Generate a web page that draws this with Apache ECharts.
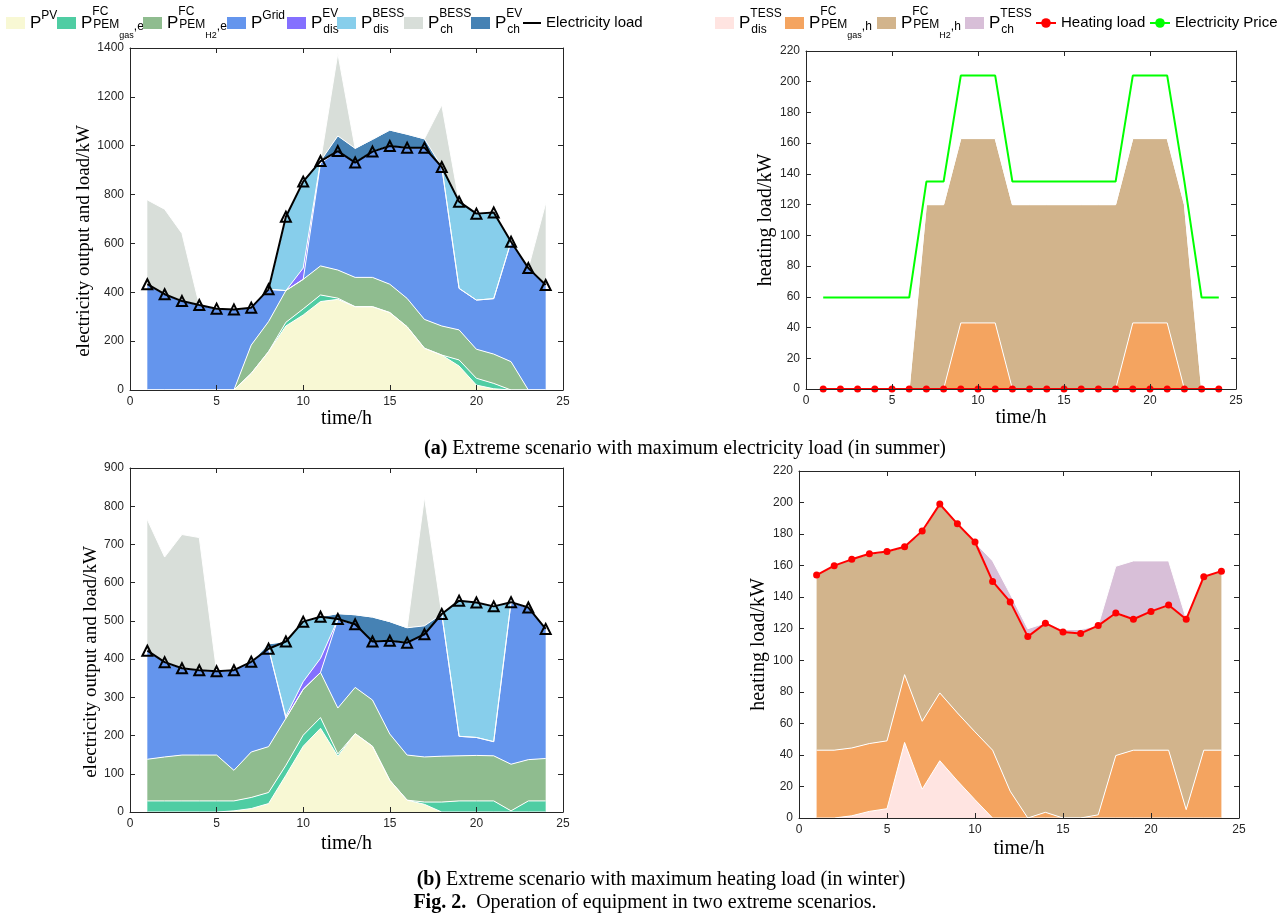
<!DOCTYPE html>
<html>
<head>
<meta charset="utf-8">
<script src="https://cdn.jsdelivr.net/npm/echarts@6.0.0/dist/echarts.min.js"></script>
<style>html,body{margin:0;padding:0;background:#fff}#c{width:1287px;height:915px}</style>
</head>
<body>
<div id="c"></div>
<script>
// ---------------- DATA ----------------
const hours = [1,2,3,4,5,6,7,8,9,10,11,12,13,14,15,16,17,18,19,20,21,22,23,24];

// (a) summer - electricity
const pvS      = [0,0,0,0,0,0,68,157,262,307,362,371,341,341,317,259,171,143,98,20,5,0,0,0];
const gasES    = [0,0,0,0,0,0,0,0,15,25,27,5,0,0,0,0,0,0,25,28,22,0,0,0];
const h2ES     = [0,0,0,0,0,0,116,123,130,121,119,115,120,120,116,116,118,119,123,119,120,116,0,0];
const gridS    = [433,392,364,348,333,330,153,132,0,0,420,487,470,515,566,617,703,651,170,201,227,491,499,430];
const evDisS   = [0,0,0,0,0,0,0,0,0,46,9,0,0,0,0,0,0,0,0,0,0,0,0,0];
const bessDisS = [0,0,0,0,0,0,0,0,302,354,0,0,0,0,0,0,0,0,355,354,353,0,0,0];
const evChS    = [0,0,0,0,0,0,0,0,0,0,0,62,58,50,65,55,36,0,0,0,0,0,0,0];
const bessChS  = [345,348,277,0,0,0,0,0,0,0,0,338,0,0,0,0,0,254,0,0,0,0,0,334];
const eLoadS   = [433,392,364,348,333,330,337,412,709,853,937,978,931,976,999,992,992,913,771,722,727,607,499,430];

// (a) summer - heating
const tDisS    = [0,0,0,0,0,0,0,0,0,0,0,0,0,0,0,0,0,0,0,0,0,0,0,0];
const gasHS    = [0,0,0,0,0,0,0,0,43,43,43,0,0,0,0,0,0,0,43,43,43,0,0,0];
const h2HS     = [0,0,0,0,0,0,120,120,120,120,120,120,120,120,120,120,120,120,120,120,120,120,0,0];
const tChS     = [0,0,0,0,0,0,0,0,0,0,0,0,0,0,0,0,0,0,0,0,0,0,0,0];
const hLoadS   = [0,0,0,0,0,0,0,0,0,0,0,0,0,0,0,0,0,0,0,0,0,0,0,0];
const priceS   = [59.5,59.5,59.5,59.5,59.5,59.5,135,135,204,204,204,135,135,135,135,135,135,135,204,204,204,135,59.5,59.5];

// (b) winter - electricity
const pvW      = [0,0,0,0,0,3,9,22,96,172,219,146,205,172,83,31,20,0,0,0,0,0,0,0];
const gasEW    = [29,29,29,29,29,26,29,29,26,29,28,6,0,0,0,0,6,26,29,29,29,3,29,29];
const h2EW     = [109,115,120,120,120,80,119,120,123,120,118,120,121,121,121,118,118,120,118,119,118,122,108,111];
const gridW    = [284,248,227,222,219,262,236,257,0,0,0,232,165,153,244,294,321,372,51,47,37,424,398,339];
const evDisW   = [0,0,0,0,0,0,0,0,5,20,37,0,0,0,0,0,0,0,0,0,0,0,0,0];
const bessDisW = [0,0,0,0,0,0,0,0,196,157,109,0,0,0,0,0,0,0,355,353,354,0,0,0];
const evChW    = [0,0,0,0,0,0,0,12,0,0,0,15,25,64,50,39,22,0,0,0,0,0,0,0];
const bessChW  = [343,275,350,347,0,0,0,0,0,0,0,0,0,0,0,0,337,0,0,0,0,0,0,0];
const eLoadW   = [422,392,376,371,368,371,393,427,446,498,511,505,491,446,448,443,465,518,553,548,538,549,535,479];

// (b) winter - heating
const tDisW    = [0,0,1.4,4.2,5.9,47.9,18.3,36.3,23.6,11.6,0,0,0,0,0,0,0,0,0,0,0,0,0,0];
const gasHW    = [43,43,43,43,43,43,43,43,43,43,43,17,0,3.6,0,0,2,39.6,43,43,43,5.3,43,43];
const h2HW     = [111,117,120,120,120,81,120,120,120,120,107,120,115,120,118,117,120,91,83,88,92,121,110,114];
const tChW     = [0,0,0,0,0,0,0,0,0,0,13,5,5,0,1.5,2.5,0,29,37,32,28,0,0,0];
const hLoadW   = [154,160,164,167.5,169,172,182,199,186.5,175,150,137,115,123.5,118,117,122,130,126,131,135,126,153,156.5];

// axis tick settings
const xMin = 0, xMax = 25, xStep = 5;
const yMaxes = [1400, 220, 900, 220];
const ySteps = [200, 20, 100, 20];

// ---------------- STYLE ----------------
const SANS = 'Liberation Sans, Arial, Helvetica, sans-serif';
const SERIF = 'Liberation Serif, Times New Roman, serif';
const AX = '#262626';
const C = {
  PV:'#F8F8D4', PEMgas_e:'#4FCDA3', PEMH2_e:'#8FBC8F', Grid:'#6495ED', EVdis:'#8470FF',
  BESSdis:'#87CEEB', BESSch:'#D8DED9', EVch:'#4682B4',
  TESSdis:'#FFE4E1', PEMgas_h:'#F4A460', PEMH2_h:'#D2B48C', TESSch:'#D8BFD8'
};

const grids = [
  {left:130, top:48,  width:433, height:342},
  {left:806, top:51,  width:430, height:338},
  {left:130, top:468, width:433, height:344},
  {left:799, top:471, width:440, height:347}
];
const yNames = ['electricity output and load/kW','heating load/kW','electricity output and load/kW','heating load/kW'];
const xNameGaps = [16, 19, 22, 21];
const yNameGaps = [22, 26, 22, 26];

const xAxes = [], yAxes = [];
for (let top = 0; top < 2; top++) {
  for (let i = 0; i < 4; i++) {
    xAxes.push({
      type:'value', gridIndex:i, position: top ? 'top' : 'bottom', min:xMin, max:xMax, interval:xStep, z:10,
      axisLine:{show:true, onZero:false, lineStyle:{color:AX, width:1}},
      axisTick:{show:true, inside:true, length:5, lineStyle:{color:AX, width:1}},
      axisLabel:{show:!top, color:AX, fontSize:12, fontFamily:SANS, margin:6, formatter: v => String(v)},
      splitLine:{show:false},
      name: top ? '' : 'time/h', nameLocation:'middle', nameGap: xNameGaps[i],
      nameTextStyle:{fontFamily:SERIF, fontSize:20, color:'#000'}
    });
    yAxes.push({
      type:'value', gridIndex:i, position: top ? 'right' : 'left', min:0, max:yMaxes[i], interval:ySteps[i], z:10,
      axisLine:{show:true, onZero:false, lineStyle:{color:AX, width:1}},
      axisTick:{show:true, inside:true, length:5, lineStyle:{color:AX, width:1}},
      axisLabel:{show:!top, color:AX, fontSize:12, fontFamily:SANS, margin:6, formatter: v => String(v)},
      splitLine:{show:false},
      name: top ? '' : yNames[i], nameLocation:'middle', nameGap: yNameGaps[i],
      nameTextStyle:{fontFamily:SERIF, fontSize: (i % 2 === 0) ? 19 : 20, color:'#000',
        padding: (i % 2 === 0) ? [0, 44, 0, 0] : 0}
    });
  }
}

// stacked areas: value first, hour second, so that the stack is computed on the value dimension
const ptsVH = arr => hours.map((h, k) => [arr[k], h]);
const pts = arr => hours.map((h, k) => [h, arr[k]]);
function area(name, arr, gi, stack) {
  return { name, type:'line', xAxisIndex:gi, yAxisIndex:gi, stack, data:ptsVH(arr), encode:{x:1, y:0},
    symbol:'none', showSymbol:false, silent:true, z:2,
    lineStyle:{color:'#ffffff', width:1}, itemStyle:{color:C[name]},
    areaStyle:{color:C[name], opacity:1}, emphasis:{disabled:true} };
}
function eLoad(arr, gi) {
  return { name:'Eload', type:'line', xAxisIndex:gi, yAxisIndex:gi, data:pts(arr), z:5, silent:true,
    symbol:'triangle', symbolSize:10, showSymbol:true,
    lineStyle:{color:'#000', width:2}, itemStyle:{color:'rgba(255,255,255,0)', borderColor:'#000', borderWidth:2},
    emphasis:{disabled:true} };
}
function hLoad(arr, gi) {
  return { name:'Hload', type:'line', xAxisIndex:gi, yAxisIndex:gi, data:pts(arr), z:5, silent:true,
    symbol:'circle', symbolSize:7, showSymbol:true,
    lineStyle:{color:'#ff0000', width:2}, itemStyle:{color:'#ff0000'}, emphasis:{disabled:true} };
}

const series = [
  area('PV', pvS, 0, 'a'), area('PEMgas_e', gasES, 0, 'a'), area('PEMH2_e', h2ES, 0, 'a'),
  area('Grid', gridS, 0, 'a'), area('EVdis', evDisS, 0, 'a'), area('BESSdis', bessDisS, 0, 'a'),
  area('EVch', evChS, 0, 'a'), area('BESSch', bessChS, 0, 'a'), eLoad(eLoadS, 0),

  area('TESSdis', tDisS, 1, 'b'), area('PEMgas_h', gasHS, 1, 'b'), area('PEMH2_h', h2HS, 1, 'b'),
  area('TESSch', tChS, 1, 'b'), hLoad(hLoadS, 1),
  { name:'Price', type:'line', xAxisIndex:1, yAxisIndex:1, data:pts(priceS), z:4, silent:true,
    symbol:'none', lineStyle:{color:'#00FF00', width:2}, itemStyle:{color:'#00FF00'}, emphasis:{disabled:true} },

  area('PV', pvW, 2, 'c'), area('PEMgas_e', gasEW, 2, 'c'), area('PEMH2_e', h2EW, 2, 'c'),
  area('Grid', gridW, 2, 'c'), area('EVdis', evDisW, 2, 'c'), area('BESSdis', bessDisW, 2, 'c'),
  area('EVch', evChW, 2, 'c'), area('BESSch', bessChW, 2, 'c'), eLoad(eLoadW, 2),

  area('TESSdis', tDisW, 3, 'd'), area('PEMgas_h', gasHW, 3, 'd'), area('PEMH2_h', h2HW, 3, 'd'),
  area('TESSch', tChW, 3, 'd'), hLoad(hLoadW, 3)
];

// ---------------- LEGENDS ----------------
const labels = {
  PV:'{p|P}{sup|PV}',
  PEMgas_e:'{p|P}{hi|FC}{sub|PEM}{ss|gas}{ce|,e}',
  PEMH2_e:'{p|P}{hi|FC}{sub|PEM}{ss|H2}{ce|,e}',
  Grid:'{p|P}{sup|Grid}',
  EVdis:'{p|P}{hi2|EV}{sub2|dis}',
  BESSdis:'{p|P}{hi2|BESS}{sub2|dis}',
  BESSch:'{p|P}{hi2|BESS}{sub2|ch}',
  EVch:'{p|P}{hi2|EV}{sub2|ch}',
  Eload:'{n|Electricity load}',
  TESSdis:'{p|P}{hi2|TESS}{sub2|dis}',
  PEMgas_h:'{p|P}{hi|FC}{sub|PEM}{ss|gas}{ce|,h}',
  PEMH2_h:'{p|P}{hi|FC}{sub|PEM}{ss|H2}{ce|,h}',
  TESSch:'{p|P}{hi2|TESS}{sub2|ch}',
  Hload:'{n|Heating load}',
  Price:'{n|Electricity Price}'
};
// token "height" positions each token inside the 40px line (top / bottom aligned)
const rich = {
  p:{fontSize:17, lineHeight:40, height:40, fontFamily:SANS, color:'#000'},
  n:{fontSize:15, lineHeight:40, height:40, fontFamily:SANS, color:'#000'},
  sup:{fontSize:12, lineHeight:26, height:26, verticalAlign:'top', fontFamily:SANS, color:'#000'},
  hi:{fontSize:12, lineHeight:17, height:17, verticalAlign:'top', width:1, fontFamily:SANS, color:'#000'},
  hi2:{fontSize:12, lineHeight:22, height:22, verticalAlign:'top', width:1, fontFamily:SANS, color:'#000'},
  sub:{fontSize:12, lineHeight:36, height:36, verticalAlign:'bottom', fontFamily:SANS, color:'#000'},
  sub2:{fontSize:12, lineHeight:26, height:26, verticalAlign:'bottom', fontFamily:SANS, color:'#000'},
  ss:{fontSize:9, lineHeight:15, height:15, verticalAlign:'bottom', fontFamily:SANS, color:'#000'},
  ce:{fontSize:12, lineHeight:32, height:32, verticalAlign:'bottom', fontFamily:SANS, color:'#000'}
};
const legendPos = [
  ['PV',6,19,'rect'], ['PEMgas_e',57,19,'rect'], ['PEMH2_e',143,19,'rect'], ['Grid',227,19,'rect'],
  ['EVdis',287,19,'rect'], ['BESSdis',337,19,'rect'], ['BESSch',404,19,'rect'], ['EVch',471,19,'rect'],
  ['Eload',522,18,null],
  ['TESSdis',715,19,'rect'], ['PEMgas_h',785,19,'rect'], ['PEMH2_h',877,19,'rect'], ['TESSch',965,19,'rect'],
  ['Hload',1035,20,null], ['Price',1149,20,null]
];
const legends = legendPos.map(([nm, x, w, icon]) => {
  const d = {name:nm};
  if (icon) d.icon = icon;
  return { data:[d], left:x, top:3, padding:0, itemWidth:w, itemHeight:12, itemGap:0,
    selectedMode:false, itemStyle:{borderWidth:0},
    formatter: name => labels[name], textStyle:{rich, fontFamily:SANS, color:'#000'} };
});

// ---------------- CAPTIONS ----------------
const capRich = {b:{fontWeight:'bold', fontFamily:SERIF, fontSize:20, fill:'#000', color:'#000'}};
const graphic = [
  {type:'text', x:685, y:449, silent:true, style:{text:'{b|(a)} Extreme scenario with maximum electricity load (in summer)',
    align:'center', verticalAlign:'middle', fontFamily:SERIF, fontSize:20, fill:'#000', rich:capRich}},
  {type:'text', x:661, y:880, silent:true, style:{text:'{b|(b)} Extreme scenario with maximum heating load (in winter)',
    align:'center', verticalAlign:'middle', fontFamily:SERIF, fontSize:20, fill:'#000', rich:capRich}},
  {type:'text', x:645, y:903, silent:true, style:{text:'{b|Fig. 2.}  Operation of equipment in two extreme scenarios.',
    align:'center', verticalAlign:'middle', fontFamily:SERIF, fontSize:20, fill:'#000', rich:capRich}}
];

const chart = echarts.init(document.getElementById('c'), null, {renderer:'canvas'});
chart.setOption({
  animation:false,
  backgroundColor:'#ffffff',
  grid: grids,
  xAxis: xAxes,
  yAxis: yAxes,
  legend: legends,
  series,
  graphic
});
</script>
</body>
</html>
